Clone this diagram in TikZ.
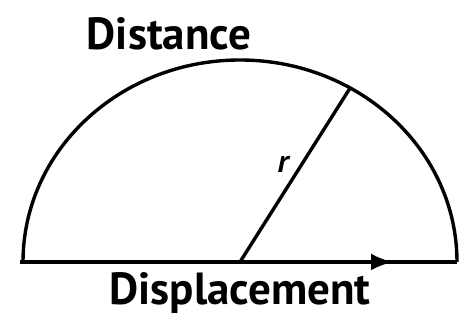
\documentclass[tikz,border=0pt]{standalone}
\usepackage{fontspec}
\setmainfont{PT Sans}
\usetikzlibrary{arrows.meta,positioning,calc}

\begin{document}
\begin{tikzpicture}[x=1pt,y=1pt,line width=3.4pt]
\useasboundingbox (0,0) rectangle (459,323);
\coordinate (O) at (240,61);
\coordinate (A) at (20,61);
\coordinate (T) at (393,61);
\coordinate (B) at (457,61);
\coordinate (P) at ($(O)+(59.5:217 and 202)$);
% half circle and its radius
\draw (B) arc[start angle=0,end angle=180,x radius=217,y radius=202];
\draw (O) -- (P);
\draw (A) -- (B);
\draw[-{Latex[length=22pt,width=17pt]}] (A) -- (T);
\node[anchor=base,font=\fontsize{45}{50}\selectfont\bfseries] (dist) at (169,273) {Distance};
\node[anchor=base,font=\fontsize{45}{50}\selectfont\bfseries] (disp) at (240,18) {Displacement};
\node[anchor=base,font=\fontsize{32}{36}\selectfont\bfseries\itshape] (r) at (283,150) {r};
\end{tikzpicture}
\end{document}
